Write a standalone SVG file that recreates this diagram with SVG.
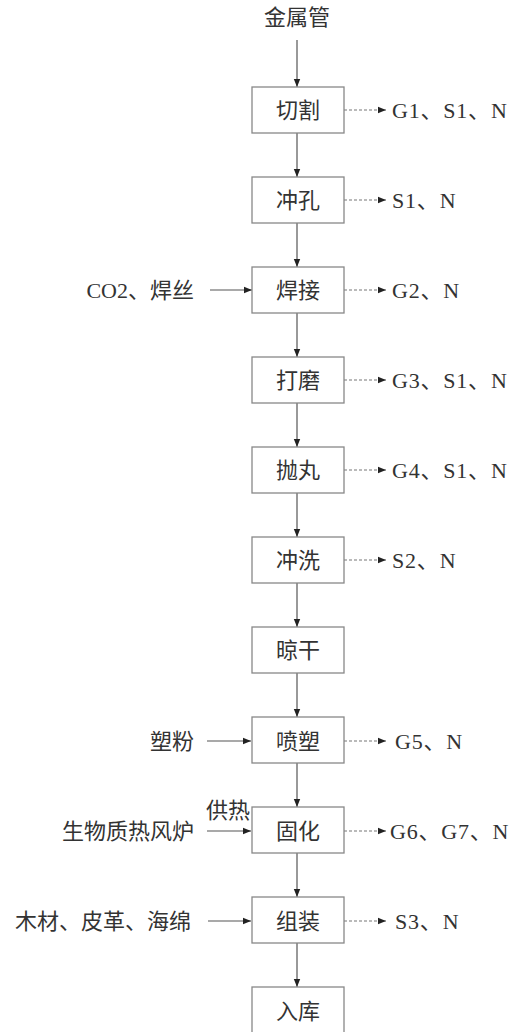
<svg xmlns="http://www.w3.org/2000/svg" width="515" height="1032" viewBox="0 0 515 1032">
<style>
text{font-family:"Liberation Serif","Noto Sans CJK SC",serif;font-size:22px;fill:#333}
.c{text-anchor:middle}
.e{text-anchor:end}
.o{letter-spacing:0.8px}
.box{fill:#fff;stroke:#888;stroke-width:1.3}
.ln{stroke:#555;stroke-width:1.2;fill:none}
.dl{stroke:#777;stroke-width:1.2;fill:none;stroke-dasharray:3,2}
</style>
<defs>
<marker id="ah" viewBox="0 0 10 10" refX="10" refY="5" markerWidth="8" markerHeight="8" markerUnits="userSpaceOnUse" orient="auto">
<path d="M0,1 L10,5 L0,9 z" fill="#222"/>
</marker>
</defs>
<g id="connectors">
<line class="ln" x1="297" y1="40" x2="297" y2="87" marker-end="url(#ah)"/>
<line class="ln" x1="297" y1="133" x2="297" y2="177" marker-end="url(#ah)"/>
<line class="ln" x1="297" y1="223" x2="297" y2="267" marker-end="url(#ah)"/>
<line class="ln" x1="297" y1="313" x2="297" y2="357" marker-end="url(#ah)"/>
<line class="ln" x1="297" y1="403" x2="297" y2="447" marker-end="url(#ah)"/>
<line class="ln" x1="297" y1="493" x2="297" y2="537" marker-end="url(#ah)"/>
<line class="ln" x1="297" y1="583" x2="297" y2="627" marker-end="url(#ah)"/>
<line class="ln" x1="297" y1="673" x2="297" y2="717" marker-end="url(#ah)"/>
<line class="ln" x1="297" y1="763" x2="297" y2="807" marker-end="url(#ah)"/>
<line class="ln" x1="297" y1="853" x2="297" y2="897" marker-end="url(#ah)"/>
<line class="ln" x1="297" y1="943" x2="297" y2="987" marker-end="url(#ah)"/>
<line class="ln" x1="210" y1="290" x2="252" y2="290" marker-end="url(#ah)"/>
<line class="ln" x1="207" y1="741" x2="251" y2="741" marker-end="url(#ah)"/>
<line class="ln" x1="207" y1="831" x2="251" y2="831" marker-end="url(#ah)"/>
<line class="ln" x1="208" y1="921" x2="251" y2="921" marker-end="url(#ah)"/>
<line class="dl" x1="344" y1="110" x2="386" y2="110" marker-end="url(#ah)"/>
<line class="dl" x1="344" y1="200" x2="386" y2="200" marker-end="url(#ah)"/>
<line class="dl" x1="344" y1="290" x2="386" y2="290" marker-end="url(#ah)"/>
<line class="dl" x1="344" y1="380" x2="386" y2="380" marker-end="url(#ah)"/>
<line class="dl" x1="344" y1="470" x2="386" y2="470" marker-end="url(#ah)"/>
<line class="dl" x1="344" y1="560" x2="386" y2="560" marker-end="url(#ah)"/>
<line class="dl" x1="344" y1="741" x2="386" y2="741" marker-end="url(#ah)"/>
<line class="dl" x1="344" y1="831" x2="386" y2="831" marker-end="url(#ah)"/>
<line class="dl" x1="344" y1="921" x2="386" y2="921" marker-end="url(#ah)"/>
</g>
<g id="n-input"><text class="c" x="297" y="25">金属管</text></g>
<g id="n1"><rect class="box" x="252" y="87" width="92" height="46"/><text class="c" x="298" y="118">切割</text></g>
<g id="n2"><rect class="box" x="252" y="177" width="92" height="46"/><text class="c" x="298" y="208">冲孔</text></g>
<g id="n3"><rect class="box" x="252" y="267" width="92" height="46"/><text class="c" x="298" y="298">焊接</text></g>
<g id="n4"><rect class="box" x="252" y="357" width="92" height="46"/><text class="c" x="298" y="388">打磨</text></g>
<g id="n5"><rect class="box" x="252" y="447" width="92" height="46"/><text class="c" x="298" y="478">抛丸</text></g>
<g id="n6"><rect class="box" x="252" y="537" width="92" height="46"/><text class="c" x="298" y="568">冲洗</text></g>
<g id="n7"><rect class="box" x="252" y="627" width="92" height="46"/><text class="c" x="298" y="658">晾干</text></g>
<g id="n8"><rect class="box" x="252" y="717" width="92" height="46"/><text class="c" x="298" y="749">喷塑</text></g>
<g id="n9"><rect class="box" x="252" y="807" width="92" height="46"/><text class="c" x="298" y="839">固化</text></g>
<g id="n10"><rect class="box" x="252" y="897" width="92" height="46"/><text class="c" x="298" y="929">组装</text></g>
<g id="n11"><rect class="box" x="252" y="987" width="92" height="46"/><text class="c" x="298" y="1019">入库</text></g>
<g id="inputs">
<text class="e" x="194" y="298">CO2、焊丝</text>
<text class="e" x="194" y="749">塑粉</text>
<text class="e" x="194" y="839">生物质热风炉</text>
<text x="206" y="818">供热</text>
<text class="e" x="191" y="929">木材、皮革、海绵</text>
</g>
<g id="outputs">
<text class="o" x="392" y="118">G1、S1、N</text>
<text class="o" x="392" y="208">S1、N</text>
<text class="o" x="392" y="298">G2、N</text>
<text class="o" x="392" y="388">G3、S1、N</text>
<text class="o" x="392" y="478">G4、S1、N</text>
<text class="o" x="392" y="568">S2、N</text>
<text class="o" x="395" y="749">G5、N</text>
<text class="o" x="390" y="839">G6、G7、N</text>
<text class="o" x="395" y="929">S3、N</text>
</g>
</svg>
